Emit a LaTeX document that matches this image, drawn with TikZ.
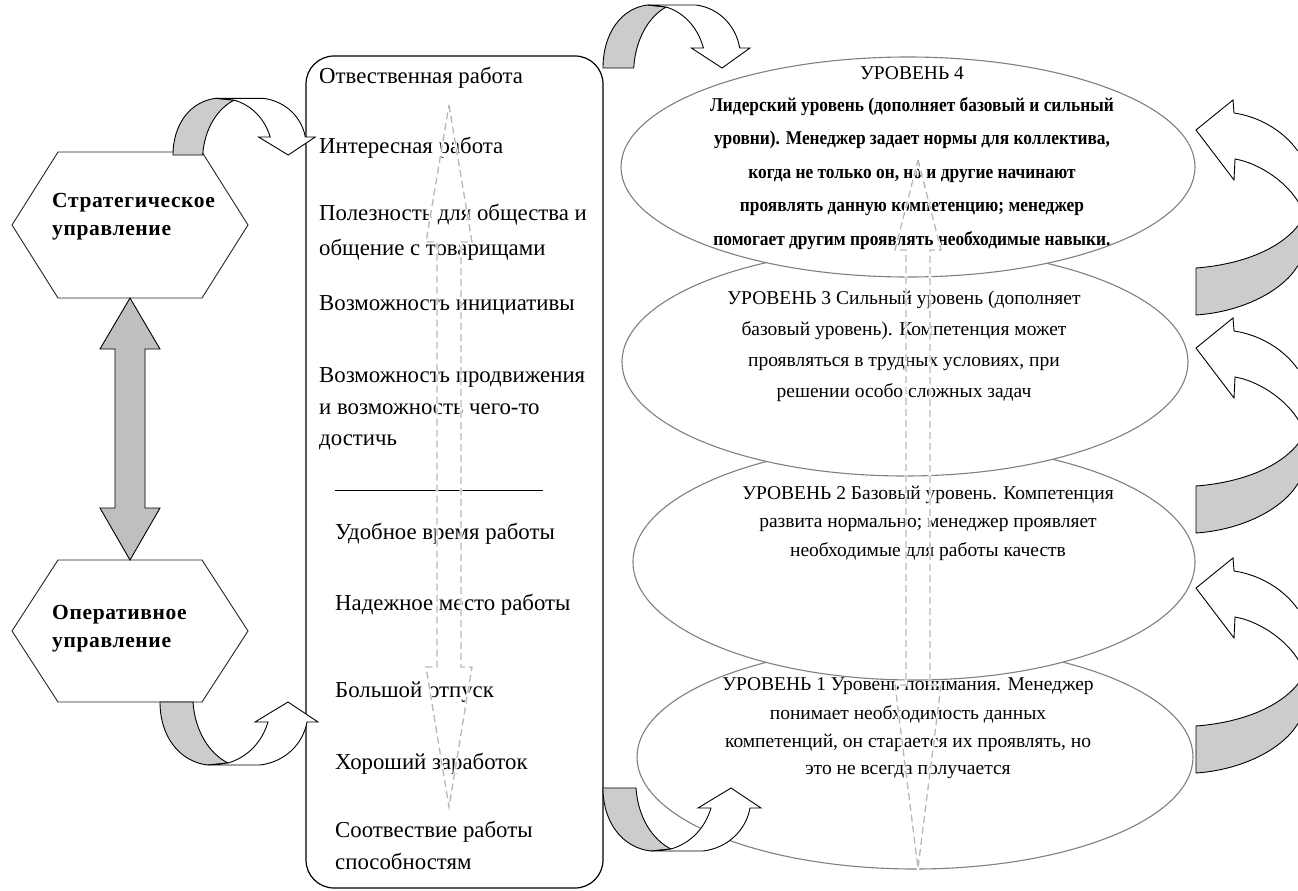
\documentclass[tikz,border=0pt]{standalone}
\usepackage{fontspec}
\usepackage{graphicx}
\setmainfont{Liberation Serif}
\newcommand{\narrowed}[1]{\scalebox{0.89}[1]{#1}}
\newcommand{\cuparrow}{%
  \filldraw[arrowback] (0,0) .. controls (0,35) and (20,60) .. (48,63) -- (68,61)
     .. controls (50,52) and (35,30) .. (33,0) -- cycle;
  \filldraw[arrowfront] (48,63) -- (100,63) .. controls (125,60) and (143,42) .. (147,20)
     -- (158,20) -- (128,0) -- (95,20) -- (108,20) .. controls (102,40) and (88,55) .. (68,61) -- cycle;
}
\newcommand{\cleftarrow}{%
  \filldraw[arrowback] (0,138) -- (0,185) .. controls (45,182) and (85,162) .. (101,137)
     -- (130,95) -- (120,70) -- (101,97) .. controls (80,122) and (40,135) .. (0,138) -- cycle;
  \filldraw[arrowfront] (39,29) .. controls (62,33) and (88,50) .. (101,70) -- (120,100)
     -- (135,40) -- (101,20) .. controls (88,2) and (65,-13) .. (38,-17) -- (37,-30)
     -- (0,0) -- (38,50) -- cycle;
}
\begin{document}
\begin{tikzpicture}[x=1pt,y=-1pt,
  arrowback/.style={draw=black,line width=0.9pt,fill=black!20,line join=miter},
  arrowfront/.style={draw=black,line width=0.9pt,fill=white,line join=miter},
  hexline/.style={draw=black!85,line width=0.9pt,fill=white},
  levelline/.style={draw=black!50,line width=1.1pt,fill=white},
  listbox/.style={draw=black,line width=1.2pt,rounded corners=28pt},
  dashmask/.style={draw=white,line width=2.6pt},
  dasharrow/.style={draw=black!28,line width=1.3pt,dash pattern=on 7pt off 4pt},
  item/.style={anchor=base west,inner sep=0pt,font=\fontsize{22.8}{26}\selectfont},
  hextext/.style={anchor=base west,inner sep=0pt,
    font=\fontsize{21.5}{25}\bfseries\addfontfeature{LetterSpace=3}},
  lvl/.style={anchor=base,inner sep=0pt,font=\fontsize{19.5}{23}\selectfont},
  lvlb/.style={anchor=base,inner sep=0pt,font=\fontsize{19.5}{23}\bfseries},
]
\useasboundingbox (0,0) rectangle (1298,891);
\clip (0,0) rectangle (1298,891);
\fill[white] (0,0) rectangle (1298,891);

% ---- competence levels, drawn bottom up so each covers the one below
\draw[levelline] (915,757) ellipse [x radius=278, y radius=112];
\draw[levelline] (914,562) ellipse [x radius=281, y radius=118];
\draw[levelline] (905,362) ellipse [x radius=283, y radius=114];
\draw[levelline] (908,167) ellipse [x radius=287, y radius=110];

\node[lvl]  (l4a) at (912,80)  {УРОВЕНЬ 4};
\node[lvlb] (l4b) at (912,111) {\narrowed{Лидерский уровень (дополняет базовый и сильный}};
\node[lvlb] (l4c) at (912,144) {\narrowed{уровни). Менеджер задает нормы для коллектива,}};
\node[lvlb] (l4d) at (912,178) {\narrowed{когда не только он, но и другие начинают}};
\node[lvlb] (l4e) at (912,211) {\narrowed{проявлять данную компетенцию; менеджер}};
\node[lvlb] (l4f) at (912,245) {\narrowed{помогает другим проявлять необходимые навыки.}};

\node[lvl] (l3a) at (904,304) {УРОВЕНЬ 3 Сильный уровень (дополняет};
\node[lvl] (l3b) at (904,335) {базовый уровень). Компетенция может};
\node[lvl] (l3c) at (904,366) {проявляться в трудных условиях, при};
\node[lvl] (l3d) at (904,397) {решении особо сложных задач};

\node[lvl] (l2a) at (928,499) {УРОВЕНЬ 2 Базовый уровень. Компетенция};
\node[lvl] (l2b) at (928,527) {развита нормально; менеджер проявляет};
\node[lvl] (l2c) at (928,556) {необходимые для работы качеств};

\node[lvl] (l1a) at (908,690) {УРОВЕНЬ 1 Уровень понимания. Менеджер};
\node[lvl] (l1b) at (908,719) {понимает необходимость данных};
\node[lvl] (l1c) at (908,747) {компетенций, он старается их проявлять, но};
\node[lvl] (l1d) at (908,774) {это не всегда получается};

% double dashed arrow across the levels
\foreach \s in {dashmask,dasharrow}
  \draw[\s] (918,160) -- (941,250) -- (930,250) -- (930,685) -- (941,685) -- (918,868)
            -- (895,685) -- (906,685) -- (906,250) -- (895,250) -- cycle;

% ---- list of work values
\draw[listbox] (306,56) rectangle (603,888);
\node[item] (v1)  at (319,83)  {Отвественная работа};
\node[item] (v2)  at (319,153) {Интересная работа};
\node[item] (v3a) at (319,220) {Полезность для общества и};
\node[item] (v3b) at (319,255) {общение с товарищами};
\node[item] (v4)  at (319,310) {Возможность инициативы};
\node[item] (v5a) at (319,382) {Возможность продвижения};
\node[item] (v5b) at (319,414) {и возможность чего-то};
\node[item] (v5c) at (319,445) {достичь};
\draw[line width=1pt] (335,490) -- (543,490);
\node[item] (w1)  at (335,539) {Удобное время работы};
\node[item] (w2)  at (335,610) {Надежное место работы};
\node[item] (w3)  at (335,697) {Большой отпуск};
\node[item] (w4)  at (335,769) {Хороший заработок};
\node[item] (w5a) at (335,837) {Соотвествие работы};
\node[item] (w5b) at (335,869) {способностям};

\foreach \s in {dashmask,dasharrow}
  \draw[\s] (449,105) -- (472,242) -- (461,242) -- (461,667) -- (472,667) -- (449,807)
            -- (426,667) -- (437,667) -- (437,242) -- (426,242) -- cycle;

% ---- management levels
\draw[hexline] (12,225) -- (58,152) -- (202,152) -- (248,225) -- (202,298) -- (58,298) -- cycle;
\draw[hexline] (12,631) -- (58,560) -- (202,560) -- (248,631) -- (202,702) -- (58,702) -- cycle;
\node[hextext] (s1) at (52,207) {Стратегическое};
\node[hextext] (s2) at (52,235) {управление};
\node[hextext] (o1) at (52,619) {Оперативное};
\node[hextext] (o2) at (52,647) {управление};

\filldraw[draw=black,line width=0.9pt,fill=black!25]
  (130,298) -- (160,349) -- (145,349) -- (145,508) -- (160,508) -- (130,560)
  -- (100,508) -- (115,508) -- (115,349) -- (100,349) -- cycle;

% ---- curved arrows
\begin{scope}[shift={(173,155)},yscale=-0.9,xscale=0.9] \cuparrow \end{scope}
\begin{scope}[shift={(160,702)}] \cuparrow \end{scope}
\begin{scope}[shift={(603,68)},yscale=-1,xscale=0.93] \cuparrow \end{scope}
\begin{scope}[shift={(603,788)}] \cuparrow \end{scope}

\begin{scope}[shift={(1196,130)}] \cleftarrow \end{scope}
\begin{scope}[shift={(1196,348)}] \cleftarrow \end{scope}
\begin{scope}[shift={(1196,588)}] \cleftarrow \end{scope}
\end{tikzpicture}
\end{document}
